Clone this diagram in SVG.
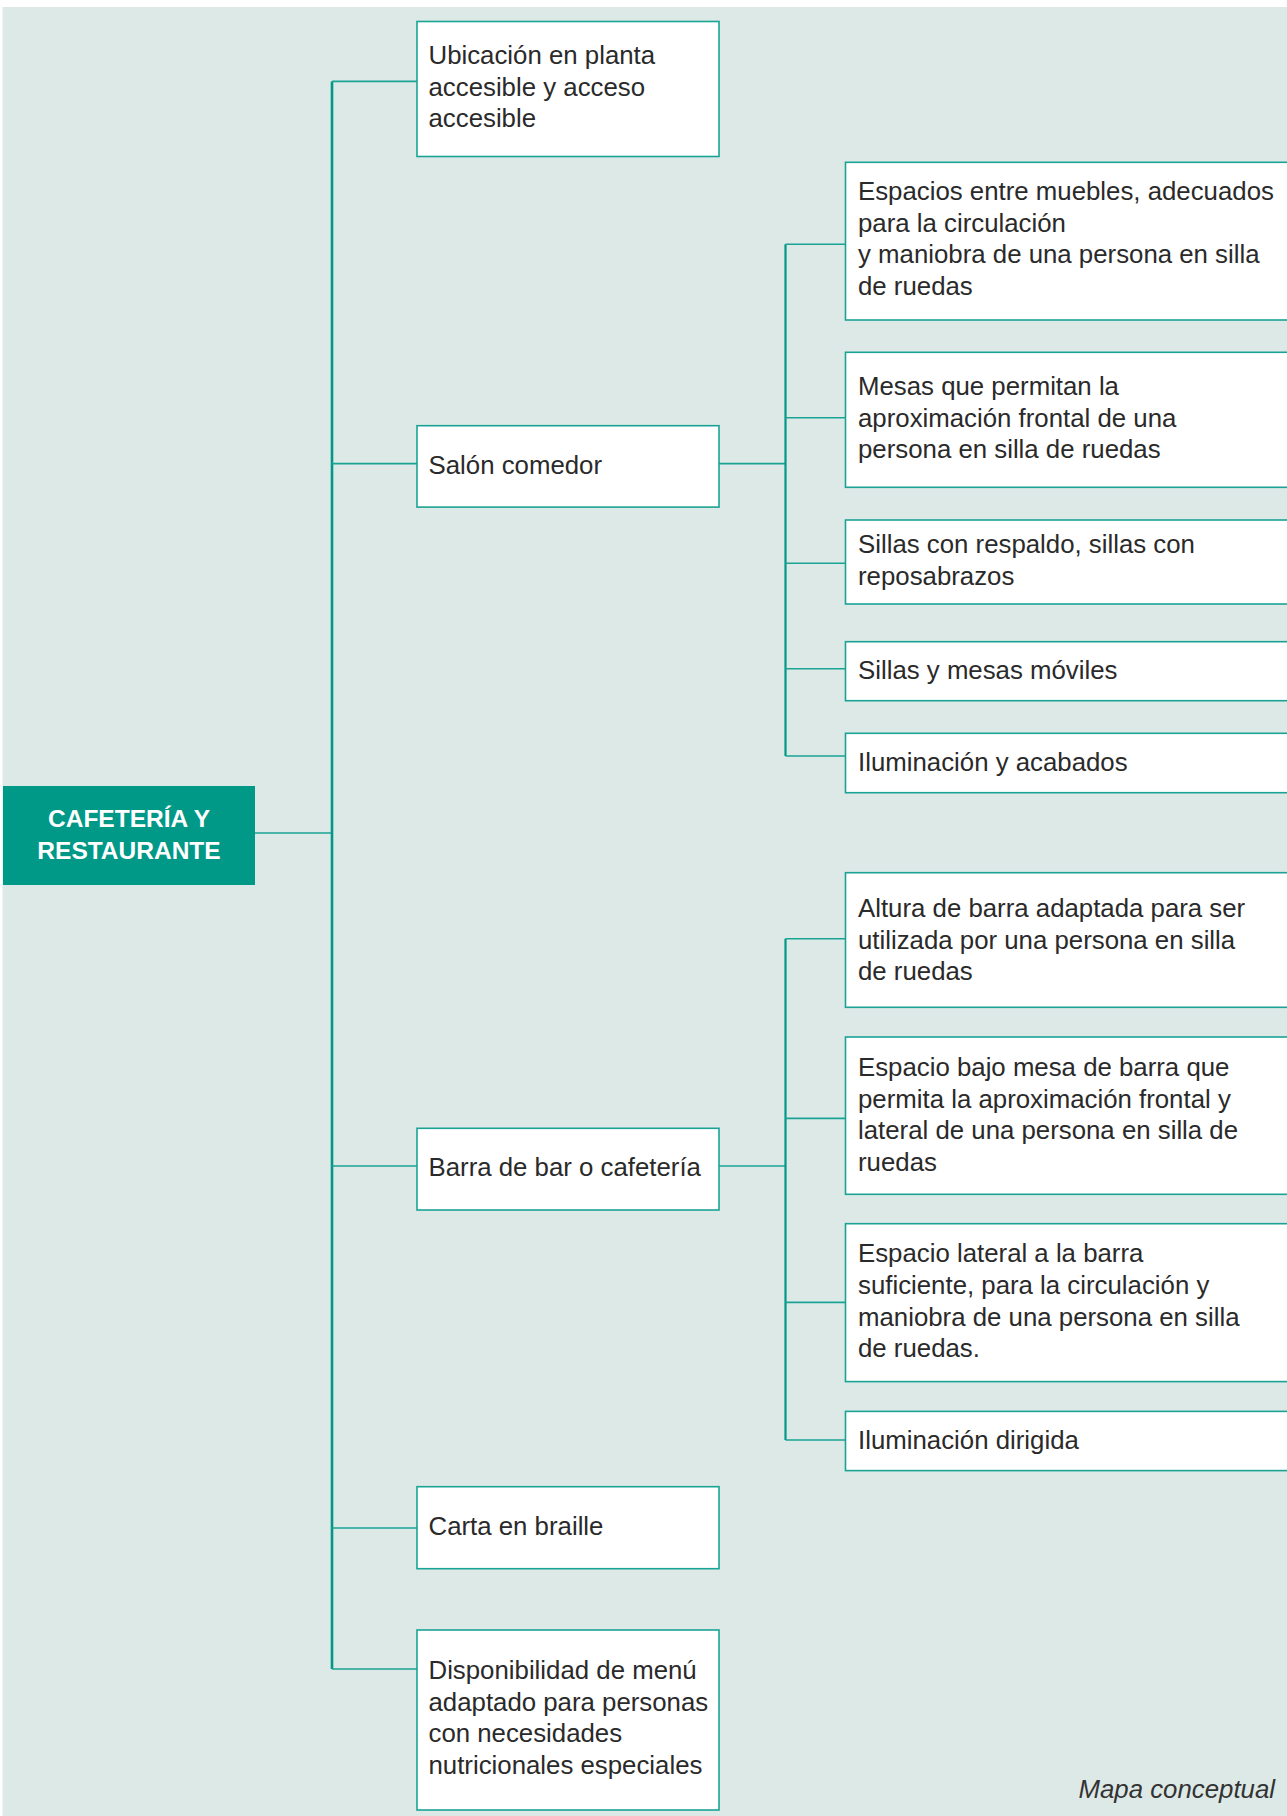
<svg xmlns="http://www.w3.org/2000/svg" width="1287" height="1816" viewBox="0 0 1287 1816">
<style>
.bg{fill:#dde9e6}
.box{fill:#ffffff;stroke:#1aa394;stroke-width:1.6}
.root{fill:#009887}
.t{font-family:"Liberation Sans",Arial,sans-serif;font-size:25.8px;fill:#2a2a2a}
.rt{font-family:"Liberation Sans",Arial,sans-serif;font-size:24.5px;font-weight:bold;fill:#ffffff;text-anchor:middle}
.cap{font-family:"Liberation Sans",Arial,sans-serif;font-size:25.8px;font-style:italic;fill:#333333;text-anchor:end}
.trunk{stroke:#009887;stroke-width:2.6;fill:none}
.sub{stroke:#009887;stroke-width:2.2;fill:none}
.stub{stroke:#1aa394;stroke-width:1.6;fill:none}
</style>
<rect class="bg" x="2.5" y="7" width="1290" height="1815"/>
<g id="connectors">
<path class="stub" d="M255 833H332"/>
<path class="trunk" d="M332 81.4V1669"/>
<path class="stub" d="M332 81.4H417M332 463.6H417M332 1166H417M332 1528H417M332 1669H417"/>
<path class="stub" d="M719 463.6H785.5"/>
<path class="sub" d="M785.5 244.3V756"/>
<path class="stub" d="M785.5 244.3H845.5M785.5 417.7H845.5M785.5 563.3H845.5M785.5 668.7H845.5M785.5 756H845.5"/>
<path class="stub" d="M719 1166H785.5"/>
<path class="sub" d="M785.5 938.8V1440"/>
<path class="stub" d="M785.5 938.8H845.5M785.5 1118.4H845.5M785.5 1302.4H845.5M785.5 1440H845.5"/>
</g>
<g id="root">
<rect class="root" x="3" y="786" width="252" height="99"/>
<text class="rt" x="129" y="827">CAFETERÍA Y</text>
<text class="rt" x="129" y="859">RESTAURANTE</text>
</g>
<g id="n-ubicacion">
<rect class="box" x="417" y="21.5" width="302" height="135"/>
<text class="t" x="428.5"><tspan x="428.5" y="64.3">Ubicación en planta</tspan><tspan x="428.5" y="95.7">accesible y acceso</tspan><tspan x="428.5" y="126.8">accesible</tspan></text>
</g>
<g id="n-salon">
<rect class="box" x="417" y="425.7" width="302" height="81.4"/>
<text class="t" x="428.5" y="474.3">Salón comedor</text>
</g>
<g id="n-barra">
<rect class="box" x="417" y="1128.3" width="302" height="81.7"/>
<text class="t" x="428.5" y="1176">Barra de bar o cafetería</text>
</g>
<g id="n-carta">
<rect class="box" x="417" y="1486.7" width="302" height="82"/>
<text class="t" x="428.5" y="1535">Carta en braille</text>
</g>
<g id="n-menu">
<rect class="box" x="417" y="1630" width="302" height="180"/>
<text class="t"><tspan x="428.5" y="1679">Disponibilidad de menú</tspan><tspan x="428.5" y="1710.5">adaptado para personas</tspan><tspan x="428.5" y="1742">con necesidades</tspan><tspan x="428.5" y="1773.5">nutricionales especiales</tspan></text>
</g>
<g id="n-espacios">
<rect class="box" x="845.5" y="162.3" width="460" height="157.7"/>
<text class="t"><tspan x="858" y="200">Espacios entre muebles, adecuados</tspan><tspan x="858" y="231.7">para la circulación</tspan><tspan x="858" y="263.3">y maniobra de una persona en silla</tspan><tspan x="858" y="295">de ruedas</tspan></text>
</g>
<g id="n-mesas">
<rect class="box" x="845.5" y="352.3" width="460" height="135"/>
<text class="t"><tspan x="858" y="395">Mesas que permitan la</tspan><tspan x="858" y="426.7">aproximación frontal de una</tspan><tspan x="858" y="458.3">persona en silla de ruedas</tspan></text>
</g>
<g id="n-sillas-respaldo">
<rect class="box" x="845.5" y="520" width="460" height="84"/>
<text class="t"><tspan x="858" y="553.3">Sillas con respaldo, sillas con</tspan><tspan x="858" y="585">reposabrazos</tspan></text>
</g>
<g id="n-sillas-moviles">
<rect class="box" x="845.5" y="641.7" width="460" height="59"/>
<text class="t" x="858" y="678.7">Sillas y mesas móviles</text>
</g>
<g id="n-iluminacion-acabados">
<rect class="box" x="845.5" y="733.3" width="460" height="59.4"/>
<text class="t" x="858" y="770.7">Iluminación y acabados</text>
</g>
<g id="n-altura">
<rect class="box" x="845.5" y="872.7" width="460" height="134.6"/>
<text class="t"><tspan x="858" y="916.7">Altura de barra adaptada para ser</tspan><tspan x="858" y="948.6">utilizada por una persona en silla</tspan><tspan x="858" y="980.3">de ruedas</tspan></text>
</g>
<g id="n-espacio-bajo">
<rect class="box" x="845.5" y="1037" width="460" height="157.3"/>
<text class="t"><tspan x="858" y="1075.9">Espacio bajo mesa de barra que</tspan><tspan x="858" y="1107.6">permita la aproximación frontal y</tspan><tspan x="858" y="1139.3">lateral de una persona en silla de</tspan><tspan x="858" y="1171">ruedas</tspan></text>
</g>
<g id="n-espacio-lateral">
<rect class="box" x="845.5" y="1223.7" width="460" height="157.9"/>
<text class="t"><tspan x="858" y="1262.4">Espacio lateral a la barra</tspan><tspan x="858" y="1294">suficiente, para la circulación y</tspan><tspan x="858" y="1325.7">maniobra de una persona en silla</tspan><tspan x="858" y="1357.4">de ruedas.</tspan></text>
</g>
<g id="n-iluminacion-dirigida">
<rect class="box" x="845.5" y="1411.4" width="460" height="59.2"/>
<text class="t" x="858" y="1449">Iluminación dirigida</text>
</g>
<text class="cap" x="1275" y="1798">Mapa conceptual</text>
</svg>
